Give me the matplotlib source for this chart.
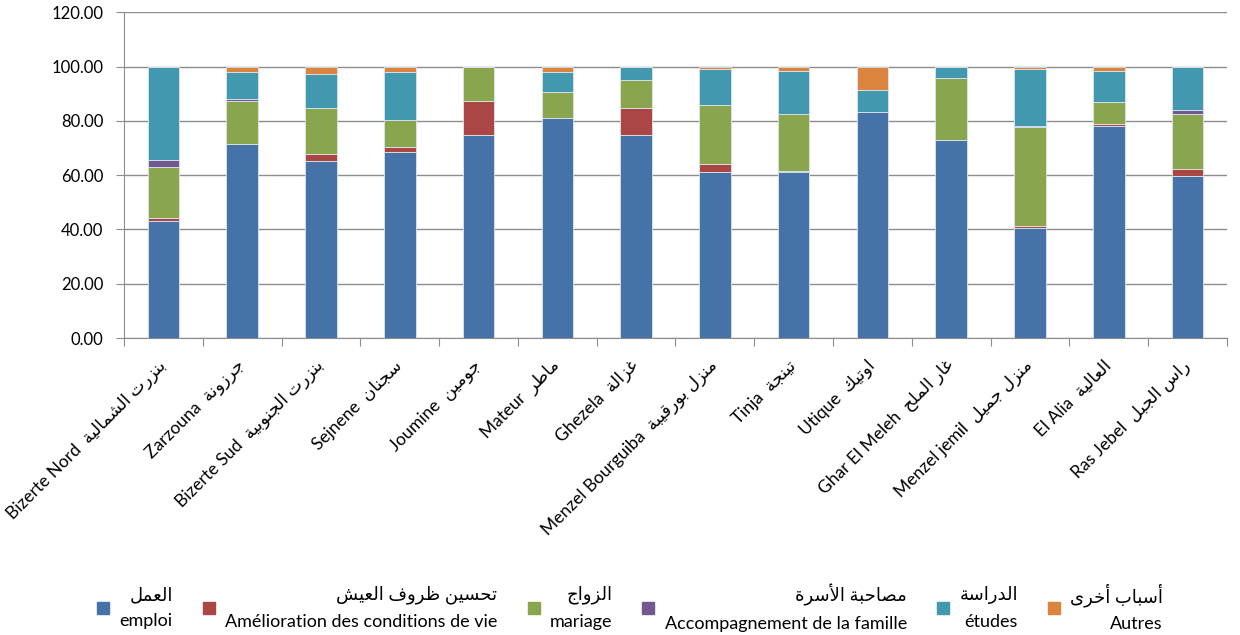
import matplotlib
matplotlib.use("Agg")
import matplotlib.pyplot as plt
from matplotlib.lines import Line2D
import numpy as np

# delegations (latin + arabic names)
names_fr = ['Bizerte Nord', 'Zarzouna', 'Bizerte Sud', 'Sejnene', 'Joumine', 'Mateur', 'Ghezela',
            'Menzel Bourguiba', 'Tinja', 'Utique', 'Ghar El Meleh', 'Menzel jemil', 'El Alia', 'Ras Jebel']
names_ar = ['بنزرت الشمالية', 'جرزونة', 'بنزرت الجنوبية', 'سجنان', 'جومين', 'ماطر', 'غزالة',
            'منزل بورقيبة', 'تينجة', 'اوتيك', 'غار الملح', 'منزل جميل', 'العالية', 'راس الجبل']

# share of each reason (%)
emploi = [43.2, 71.6, 65.1, 68.5, 74.9, 81.2, 74.8, 61.1, 61.1, 83.2, 72.8, 40.7, 78.3, 59.6]
amelioration = [1.1, 0, 2.7, 1.9, 12.6, 0, 10.0, 2.9, 0.6, 0, 0, 0.5, 0.5, 2.6]
mariage = [18.7, 15.7, 17.0, 10.0, 12.5, 9.5, 10.1, 22.0, 21.0, 0, 23.0, 36.5, 8.0, 20.4]
famille = [2.7, 0.6, 0, 0, 0, 0, 0, 0, 0, 0, 0, 0.5, 0, 1.4]
etudes = [34.3, 10.3, 12.5, 17.5, 0, 7.2, 5.1, 13.3, 15.8, 8.3, 4.2, 21.1, 11.7, 16.0]
autres = [0, 1.8, 2.7, 2.1, 0, 2.1, 0, 0.7, 1.5, 8.5, 0, 0.7, 1.5, 0]

series_ar = ['العمل', 'تحسين ظروف العيش', 'الزواج', 'مصاحبة الأسرة', 'الدراسة', 'أسباب أخرى']
series_fr = ['emploi', 'Amélioration des conditions de vie', 'mariage',
             'Accompagnement de la famille', 'études', 'Autres']
colors = ['#4572A7', '#AA4643', '#89A54E', '#71588F', '#4198AF', '#DB843D']

# matplotlib has no arabic shaping, so pick presentation forms by hand
letters = {
    'ا': (0xFE8D, False), 'أ': (0xFE83, False), 'إ': (0xFE87, False), 'آ': (0xFE81, False),
    'ب': (0xFE8F, True), 'ة': (0xFE93, False), 'ت': (0xFE95, True), 'ث': (0xFE99, True),
    'ج': (0xFE9D, True), 'ح': (0xFEA1, True), 'خ': (0xFEA5, True), 'د': (0xFEA9, False),
    'ذ': (0xFEAB, False), 'ر': (0xFEAD, False), 'ز': (0xFEAF, False), 'س': (0xFEB1, True),
    'ش': (0xFEB5, True), 'ص': (0xFEB9, True), 'ض': (0xFEBD, True), 'ط': (0xFEC1, True),
    'ظ': (0xFEC5, True), 'ع': (0xFEC9, True), 'غ': (0xFECD, True), 'ف': (0xFED1, True),
    'ق': (0xFED5, True), 'ك': (0xFED9, True), 'ل': (0xFEDD, True), 'م': (0xFEE1, True),
    'ن': (0xFEE5, True), 'ه': (0xFEE9, True), 'و': (0xFEED, False), 'ى': (0xFEEF, False),
    'ي': (0xFEF1, True),
}
lam_alef = {'ا': 0xFEFB, 'أ': 0xFEF7, 'إ': 0xFEF9, 'آ': 0xFEF5}


def shape(txt):
    out = []
    i = 0
    n = len(txt)
    while i < n:
        c = txt[i]
        if c not in letters:
            out.append(c)
            i += 1
            continue
        prev = txt[i - 1] if i > 0 else ''
        joins_prev = prev in letters and letters[prev][1]
        if c == 'ل' and i + 1 < n and txt[i + 1] in lam_alef:
            out.append(chr(lam_alef[txt[i + 1]] + (1 if joins_prev else 0)))
            i += 2
            continue
        base, dual = letters[c]
        nxt = txt[i + 1] if i + 1 < n else ''
        joins_next = dual and nxt in letters
        if joins_prev and joins_next:
            code = base + 3
        elif joins_prev:
            code = base + 1
        elif joins_next:
            code = base + 2
        else:
            code = base
        out.append(chr(code))
        i += 1
    return ''.join(reversed(out))


plt.rcParams['font.family'] = ['Lato', 'DejaVu Sans']

fig = plt.figure(figsize=(12.4, 6.35), dpi=100)
ax = fig.add_axes([0.1, 0.4677, 0.8895, 0.5128])

data = [emploi, amelioration, mariage, famille, etudes, autres]
x = np.arange(len(names_fr))
bottom = np.zeros(len(names_fr))
for vals, col in zip(data, colors):
    ax.bar(x, vals, 0.4, bottom=bottom, color=col, edgecolor='#dde4ee', linewidth=0.6, zorder=3)
    bottom += np.array(vals)

ax.set_xlim(-0.5, len(names_fr) - 0.5)
ax.set_ylim(0, 120)
ax.set_yticks(np.arange(0, 121, 20))
ax.set_yticklabels(['%.2f' % v for v in np.arange(0, 121, 20)], fontsize=12)
ax.yaxis.grid(True, color='#8c8c8c', linewidth=1, zorder=0)

# boundary ticks on x, labels at bar centres
ax.set_xticks(np.arange(-0.5, len(names_fr), 1))
ax.set_xticklabels([])
ax.set_xticks(x, minor=True)
ax.set_xticklabels([f + '  ' + shape(a) for f, a in zip(names_fr, names_ar)], minor=True,
                   rotation=45, ha='right', va='center', rotation_mode='anchor', fontsize=12.5)
ax.tick_params(axis='x', which='minor', length=0, pad=18)
ax.tick_params(axis='x', which='major', length=6, color='#8c8c8c')
ax.tick_params(axis='y', length=6, color='#8c8c8c', pad=9)

for s in ['top', 'right']:
    ax.spines[s].set_visible(False)
for s in ['left', 'bottom']:
    ax.spines[s].set_color('#8c8c8c')

handles = [Line2D([], [], marker='s', linestyle='none', markersize=8, color=c) for c in colors]
labels = [shape(a) + '\n' + f for a, f in zip(series_ar, series_fr)]
leg = fig.legend(handles, labels, loc='center', bbox_to_anchor=(0.507, 0.043), ncol=6,
                 frameon=False, fontsize=13, handlelength=1, handletextpad=0.4,
                 columnspacing=1.5)
for t in leg.get_texts():
    t.set_multialignment('right')
    t.set_linespacing(1.75)

fig.savefig('out.png', dpi=100)
